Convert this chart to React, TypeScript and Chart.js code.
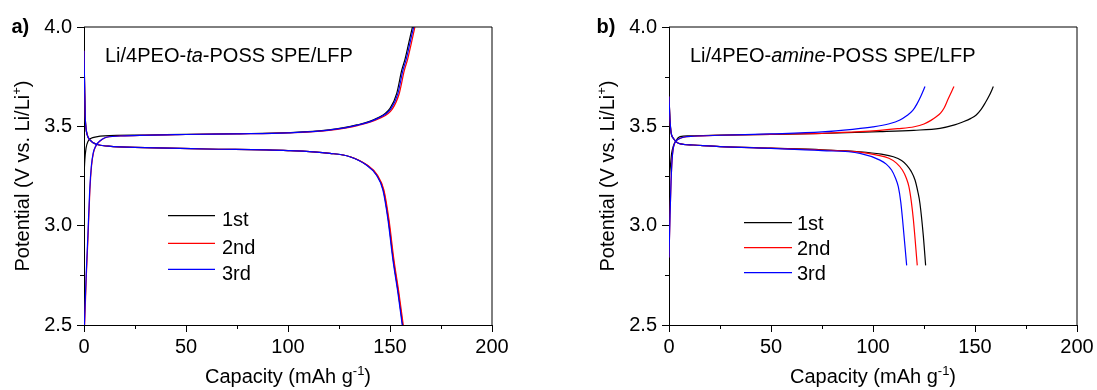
import React, { useEffect, useRef } from "react";
import { Chart, registerables } from "chart.js";

Chart.register(...registerables);

const FONT = '"Liberation Sans", Arial, Helvetica, sans-serif';

// ---------- axis settings ----------
const xMin = 0;
const xMax = 200;
const yMin = 2.5;
const yMax = 4.0;
const xMajorTicks = [0, 50, 100, 150, 200];
const xMinorTicks = [25, 75, 125, 175];
const yMajorTicks = [2.5, 3.0, 3.5, 4.0];
const yMinorTicks = [2.75, 3.25, 3.75];
const legendLabels = ["1st", "2nd", "3rd"];
const seriesColors = ["#000000", "#ff0000", "#0000ff"];

// ---------- panel a (ta-POSS) ----------
const aCh1Cap = [0, 0.4, 1.0, 2.0, 3.5, 6, 10, 30, 50, 75, 100, 120, 133.7, 143.5, 150, 153.3, 155.7, 157.4, 159.2, 161];
const aCh1V = [3.25, 3.33, 3.39, 3.425, 3.44, 3.447, 3.452, 3.456, 3.46, 3.463, 3.468, 3.482, 3.507, 3.54, 3.59, 3.666, 3.78, 3.84, 3.92, 4.0];
const aCh2Cap = [0.3, 1.2, 2.0, 2.9, 3.7, 4.6, 5.8, 7, 9, 11, 20, 50, 75, 100, 120, 134.5, 144.5, 151.2, 154.5, 157, 158.7, 160.5, 162.2];
const aCh2V = [2.5, 2.76, 2.95, 3.18, 3.3, 3.365, 3.4, 3.418, 3.435, 3.445, 3.452, 3.459, 3.462, 3.467, 3.48, 3.505, 3.538, 3.588, 3.664, 3.78, 3.84, 3.92, 4.0];
const aCh3Cap = [0.2, 1.1, 1.9, 2.8, 3.6, 4.5, 5.7, 6.9, 8.9, 11, 20, 50, 75, 100, 120, 134.2, 144, 150.6, 153.9, 156.3, 158, 159.8, 161.6];
const aCh3V = [2.5, 2.76, 2.95, 3.18, 3.3, 3.365, 3.4, 3.418, 3.435, 3.445, 3.452, 3.459, 3.462, 3.467, 3.481, 3.506, 3.54, 3.59, 3.666, 3.78, 3.84, 3.92, 4.0];
const aDis1Cap = [0, 0.3, 0.6, 1.0, 1.5, 3, 6, 12, 30, 60, 100, 120.6, 130.4, 138.6, 143.5, 146.7, 149.2, 151.6, 154.1, 156.2];
const aDis1V = [3.88, 3.7, 3.55, 3.49, 3.46, 3.43, 3.41, 3.4, 3.393, 3.386, 3.378, 3.364, 3.347, 3.305, 3.255, 3.18, 3.03, 2.83, 2.66, 2.5];
const aDis2Cap = [0, 0.3, 0.6, 1.0, 1.5, 3, 6, 12, 30, 60, 100, 120.6, 130.5, 138.8, 143.8, 147, 149.5, 151.9, 154.4, 156.5];
const aDis2V = [3.88, 3.7, 3.55, 3.49, 3.46, 3.43, 3.41, 3.4, 3.393, 3.386, 3.378, 3.364, 3.347, 3.305, 3.255, 3.18, 3.03, 2.83, 2.66, 2.5];
const aDis3Cap = [0, 0.3, 0.6, 1.0, 1.5, 3, 6, 12, 30, 60, 100, 120.5, 130.3, 138.4, 143.3, 146.5, 149, 151.4, 153.9, 156];
const aDis3V = [3.88, 3.7, 3.55, 3.49, 3.46, 3.43, 3.41, 3.4, 3.393, 3.386, 3.378, 3.364, 3.347, 3.305, 3.255, 3.18, 3.03, 2.83, 2.66, 2.5];

// ---------- panel b (amine-POSS) ----------
const bCh1Cap = [0, 0.5, 1.3, 2.1, 3.5, 5.4, 10, 25, 50, 75, 103.4, 120, 132.8, 140, 144, 148, 150.6, 153, 154.9, 157, 159];
const bCh1V = [3.23, 3.28, 3.364, 3.4, 3.43, 3.448, 3.452, 3.456, 3.46, 3.464, 3.473, 3.48, 3.49, 3.507, 3.522, 3.54, 3.557, 3.585, 3.616, 3.655, 3.7];
const bCh2Cap = [0, 0.5, 1.0, 1.5, 2.1, 3, 4.5, 7, 12, 25, 50, 75, 93.6, 103.4, 112, 120.2, 125, 128.4, 131, 133.2, 135, 136.6, 139.7];
const bCh2V = [2.84, 3.05, 3.22, 3.33, 3.39, 3.42, 3.435, 3.445, 3.45, 3.455, 3.46, 3.465, 3.473, 3.48, 3.488, 3.498, 3.512, 3.53, 3.548, 3.568, 3.595, 3.632, 3.7];
const bCh3Cap = [0, 0.5, 1.0, 1.5, 2.1, 3, 4.5, 7, 12, 25, 50, 75, 90, 100, 108, 113.2, 116.5, 119.5, 121.5, 123.5, 125.5];
const bCh3V = [2.84, 3.05, 3.22, 3.33, 3.39, 3.42, 3.435, 3.445, 3.45, 3.455, 3.462, 3.472, 3.485, 3.497, 3.513, 3.532, 3.553, 3.58, 3.612, 3.653, 3.7];
const bDis1Cap = [0, 0.5, 1.0, 2.1, 4.6, 11.9, 25, 50, 75, 93.6, 104, 110, 114, 116.5, 118.8, 120.6, 122, 123, 124.7, 125.8];
const bDis1V = [3.65, 3.53, 3.47, 3.44, 3.415, 3.406, 3.398, 3.39, 3.382, 3.372, 3.36, 3.347, 3.328, 3.305, 3.272, 3.23, 3.17, 3.113, 2.945, 2.8];
const bDis2Cap = [0, 0.5, 1.0, 2.1, 4.6, 11.9, 25, 50, 75, 93.6, 102, 107.8, 111.5, 114.4, 116.3, 117.6, 118.8, 119.8, 121.7];
const bDis2V = [3.65, 3.53, 3.47, 3.44, 3.415, 3.406, 3.398, 3.39, 3.381, 3.37, 3.355, 3.339, 3.315, 3.28, 3.24, 3.196, 3.12, 3.03, 2.8];
const bDis3Cap = [0, 0.5, 1.0, 2.1, 4.6, 11.9, 25, 50, 75, 93.6, 103.4, 106.5, 109.1, 111, 112.4, 113.6, 114.5, 116.5];
const bDis3V = [3.65, 3.53, 3.47, 3.44, 3.415, 3.406, 3.398, 3.389, 3.378, 3.364, 3.33, 3.31, 3.28, 3.24, 3.196, 3.12, 3.03, 2.8];

type Seg = { t: string; italic?: boolean; bold?: boolean; sup?: boolean };

function segFont(s: Seg, size: number) {
  const sz = s.sup ? Math.round(size * 0.65) : size;
  return `${s.italic ? "italic " : ""}${s.bold ? "bold " : ""}${sz}px ${FONT}`;
}

function drawRich(ctx: CanvasRenderingContext2D, segs: Seg[], x: number, y: number, size: number, align: "left" | "center") {
  let total = 0;
  const widths = segs.map((s) => {
    ctx.font = segFont(s, size);
    const w = ctx.measureText(s.t).width;
    total += w;
    return w;
  });
  let cx = align === "center" ? x - total / 2 : x;
  ctx.textAlign = "left";
  ctx.textBaseline = "alphabetic";
  segs.forEach((s, i) => {
    ctx.font = segFont(s, size);
    ctx.fillText(s.t, cx, s.sup ? y - size * 0.42 : y);
    cx += widths[i];
  });
}

function toPoints(cap: number[], v: number[]) {
  return cap.map((x, i) => ({ x, y: v[i] }));
}

type PanelProps = {
  left: number;
  width: number;
  yAxisWidth: number;
  padRight: number;
  label: string;
  annot: Seg[];
  charge: [number[], number[]][];
  discharge: [number[], number[]][];
  legendLineX: [number, number];
  legendTextX: number;
  legendRows: number[];
  legendTextDy: number;
};

function Panel(p: PanelProps) {
  const ref = useRef<HTMLCanvasElement>(null);
  useEffect(() => {
    if (!ref.current) return;
    const datasets: any[] = [];
    // blue first so it is drawn on top, black last
    for (let k = 2; k >= 0; k--) {
      datasets.push({
        data: toPoints(p.charge[k][0], p.charge[k][1]),
        borderColor: seriesColors[k],
        borderWidth: 1.2,
        pointRadius: 0,
        fill: false,
        cubicInterpolationMode: "monotone",
      });
      datasets.push({
        data: toPoints(p.discharge[k][0], p.discharge[k][1]),
        borderColor: seriesColors[k],
        borderWidth: 1.2,
        pointRadius: 0,
        fill: false,
        cubicInterpolationMode: "monotone",
      });
    }
    const deco = {
      id: "deco",
      afterDraw(chart: any) {
        const ctx: CanvasRenderingContext2D = chart.ctx;
        const a = chart.chartArea;
        const xs = chart.scales.x;
        const ys = chart.scales.y;
        ctx.save();
        // top/right frame
        ctx.strokeStyle = "#000";
        ctx.lineWidth = 1;
        ctx.beginPath();
        ctx.moveTo(a.left, a.top);
        ctx.lineTo(a.right, a.top);
        ctx.lineTo(a.right, a.bottom);
        ctx.stroke();
        // minor ticks
        ctx.beginPath();
        xMinorTicks.forEach((v) => {
          const px = Math.round(xs.getPixelForValue(v)) + 0.5;
          ctx.moveTo(px, a.bottom);
          ctx.lineTo(px, a.bottom + 4);
        });
        yMinorTicks.forEach((v) => {
          const py = Math.round(ys.getPixelForValue(v)) + 0.5;
          ctx.moveTo(a.left - 4, py);
          ctx.lineTo(a.left, py);
        });
        ctx.stroke();
        ctx.fillStyle = "#000";
        // panel label
        drawRich(ctx, [{ t: p.label, bold: true }], a.left - 72.5, 32.5, 20, "left");
        // annotation
        drawRich(ctx, p.annot, a.left + 21, 62, 20, "left");
        // axis titles
        drawRich(
          ctx,
          [{ t: "Capacity (mAh g" }, { t: "-1", sup: true }, { t: ")" }],
          (a.left + a.right) / 2,
          383,
          20,
          "center"
        );
        ctx.save();
        ctx.translate(a.left - 54.7, (a.top + a.bottom) / 2);
        ctx.rotate(-Math.PI / 2);
        drawRich(
          ctx,
          [{ t: "Potential (V vs. Li/Li" }, { t: "+", sup: true }, { t: ")" }],
          0,
          0,
          20,
          "center"
        );
        ctx.restore();
        // legend
        legendLabels.forEach((lab, i) => {
          const y = p.legendRows[i];
          ctx.strokeStyle = seriesColors[i];
          ctx.lineWidth = 1.2;
          ctx.beginPath();
          ctx.moveTo(a.left + p.legendLineX[0], y);
          ctx.lineTo(a.left + p.legendLineX[1], y);
          ctx.stroke();
          ctx.fillStyle = "#000";
          drawRich(ctx, [{ t: lab }], a.left + p.legendTextX, y + p.legendTextDy, 20, "left");
        });
        ctx.restore();
      },
    };
    const chart = new Chart(ref.current, {
      type: "line",
      data: { datasets },
      options: {
        animation: false,
        responsive: false,
        devicePixelRatio: 1,
        layout: { padding: { left: 0, right: p.padRight, top: 27, bottom: 0 } },
        plugins: { legend: { display: false }, tooltip: { enabled: false } },
        scales: {
          x: {
            type: "linear",
            min: xMin,
            max: xMax,
            afterFit: (s: any) => {
              s.height = 65;
            },
            afterBuildTicks: (s: any) => {
              s.ticks = xMajorTicks.map((v) => ({ value: v }));
            },
            ticks: {
              autoSkip: false,
              maxRotation: 0,
              color: "#000",
              padding: 3,
              font: { family: FONT, size: 20 },
              callback: (v: any) => String(v),
            },
            grid: { display: true, drawOnChartArea: false, tickLength: 7, tickColor: "#000", color: "#000" },
            border: { display: true, color: "#000", width: 1 },
          },
          y: {
            type: "linear",
            min: yMin,
            max: yMax,
            afterFit: (s: any) => {
              s.width = p.yAxisWidth;
            },
            afterBuildTicks: (s: any) => {
              s.ticks = yMajorTicks.map((v) => ({ value: v }));
            },
            ticks: {
              autoSkip: false,
              color: "#000",
              padding: 5,
              font: { family: FONT, size: 20 },
              callback: (v: any) => Number(v).toFixed(1),
            },
            grid: { display: true, drawOnChartArea: false, tickLength: 7, tickColor: "#000", color: "#000" },
            border: { display: true, color: "#000", width: 1 },
          },
        },
      },
      plugins: [deco],
    } as any);
    return () => chart.destroy();
  }, []);
  return (
    <canvas
      ref={ref}
      width={p.width}
      height={390}
      style={{ position: "absolute", left: p.left, top: 0, width: p.width, height: 390 }}
    />
  );
}

export default function App() {
  return (
    <div style={{ position: "absolute", left: 0, top: 0, width: 1097, height: 390, background: "#fff" }}>
      <Panel
        left={0}
        width={548}
        yAxisWidth={84}
        padRight={56}
        label="a)"
        annot={[{ t: "Li/4PEO-" }, { t: "ta", italic: true }, { t: "-POSS SPE/LFP" }]}
        charge={[
          [aCh1Cap, aCh1V],
          [aCh2Cap, aCh2V],
          [aCh3Cap, aCh3V],
        ]}
        discharge={[
          [aDis1Cap, aDis1V],
          [aDis2Cap, aDis2V],
          [aDis3Cap, aDis3V],
        ]}
        legendLineX={[84, 131]}
        legendTextX={138}
        legendRows={[215.7, 243.3, 269.3]}
        legendTextDy={10.5}
      />
      <Panel
        left={548}
        width={549}
        yAxisWidth={121}
        padRight={20}
        label="b)"
        annot={[{ t: "Li/4PEO-" }, { t: "amine", italic: true }, { t: "-POSS SPE/LFP" }]}
        charge={[
          [bCh1Cap, bCh1V],
          [bCh2Cap, bCh2V],
          [bCh3Cap, bCh3V],
        ]}
        discharge={[
          [bDis1Cap, bDis1V],
          [bDis2Cap, bDis2V],
          [bDis3Cap, bDis3V],
        ]}
        legendLineX={[75, 123]}
        legendTextX={128}
        legendRows={[222.7, 247.7, 272.7]}
        legendTextDy={7.3}
      />
    </div>
  );
}
